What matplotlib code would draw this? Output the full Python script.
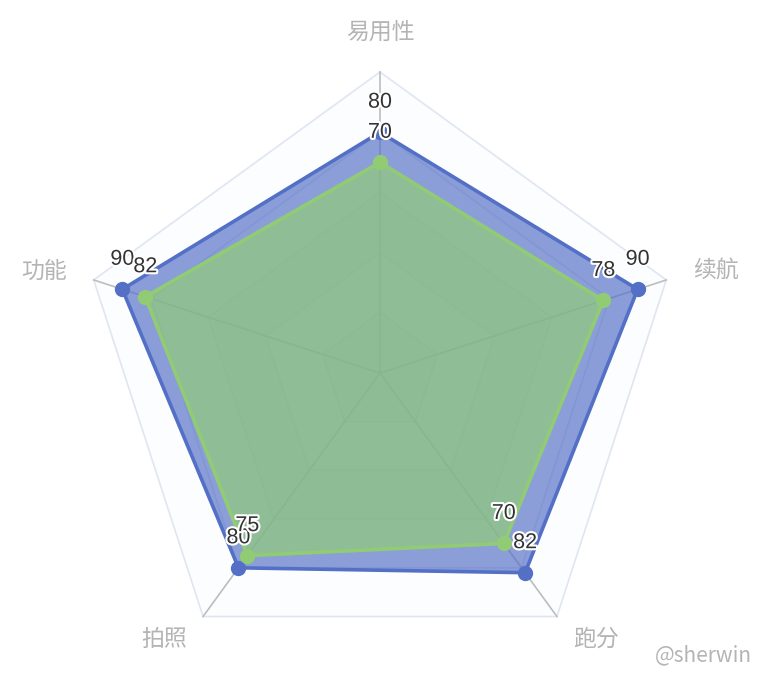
import numpy as np
import matplotlib.pyplot as plt
import matplotlib.patheffects as pe

plt.rcParams['font.family'] = ['Noto Sans CJK SC', 'DejaVu Sans']

''' Data '''
indicators = ['易用性', '功能', '拍照', '跑分', '续航']
max_value = 100
series_a = [80, 90, 80, 82, 90]
series_b = [70, 82, 75, 70, 78]
color_a = '#5470c6'
color_b = '#91cc75'

''' Geometry '''
# ECharts puts the first indicator on top and goes counter-clockwise
angles = np.deg2rad(90 + 72 * np.arange(len(indicators)))
px = 3.01  # pixels per data unit (radius 301 px -> 100)


def to_xy(values):
    v = np.asarray(values, dtype=float)
    return v * np.cos(angles), v * np.sin(angles)


fig = plt.figure(figsize=(7.6, 6.74), dpi=100)
ax = fig.add_axes([0, 0, 1, 1])
ax.set_xlim(-380 / px, 380 / px)
ax.set_ylim(-(674 - 373) / px, 373 / px)
ax.axis('off')

# split areas and split lines
levels = np.linspace(max_value, 0, 6)[:-1]
band_colors = ['#fcfdfe', '#ffffff']
for i, lv in enumerate(levels):
    x, y = to_xy([lv] * len(indicators))
    ax.fill(x, y, color=band_colors[i % 2], zorder=0)
    ax.plot(np.append(x, x[0]), np.append(y, y[0]), color='#e0e6f1', lw=1.2, zorder=1)

# axis lines
for a in angles:
    ax.plot([0, max_value * np.cos(a)], [0, max_value * np.sin(a)], color='#bdbdbd', lw=1.2, zorder=1)

# indicator names, aligned the way echarts does it
r_name = max_value + 28 / px
for name, a in zip(indicators, angles):
    c, s = np.cos(a), np.sin(a)
    ha = 'center' if abs(c) < 0.01 else ('left' if c > 0 else 'right')
    va = 'bottom' if s > 0.99 else 'center'
    ax.text(r_name * c, r_name * s, name, ha=ha, va=va, fontsize=16.5, color='#b4b4b4')

# series
stroke = [pe.withStroke(linewidth=3, foreground='white')]
for vals, col, z in [(series_a, color_a, 3), (series_b, color_b, 6)]:
    x, y = to_xy(vals)
    ax.fill(x, y, color=col, alpha=0.68, lw=0, zorder=z)
    ax.plot(np.append(x, x[0]), np.append(y, y[0]), color=col, lw=2.6, zorder=z + 1)
    ax.plot(x, y, 'o', color=col, ms=10, zorder=z + 2)
    for xi, yi, v in zip(x, y, vals):
        ax.text(xi, yi + 30 / px, str(v), ha='center', va='center', fontsize=15.5,
                family='Liberation Sans', color='#333333', path_effects=stroke, zorder=20)

# watermark
fig.text(703 / 760, 1 - 655 / 674, '@sherwin', ha='center', va='center', fontsize=15, color='#b4b4b4')

fig.savefig('out.png', dpi=100)
